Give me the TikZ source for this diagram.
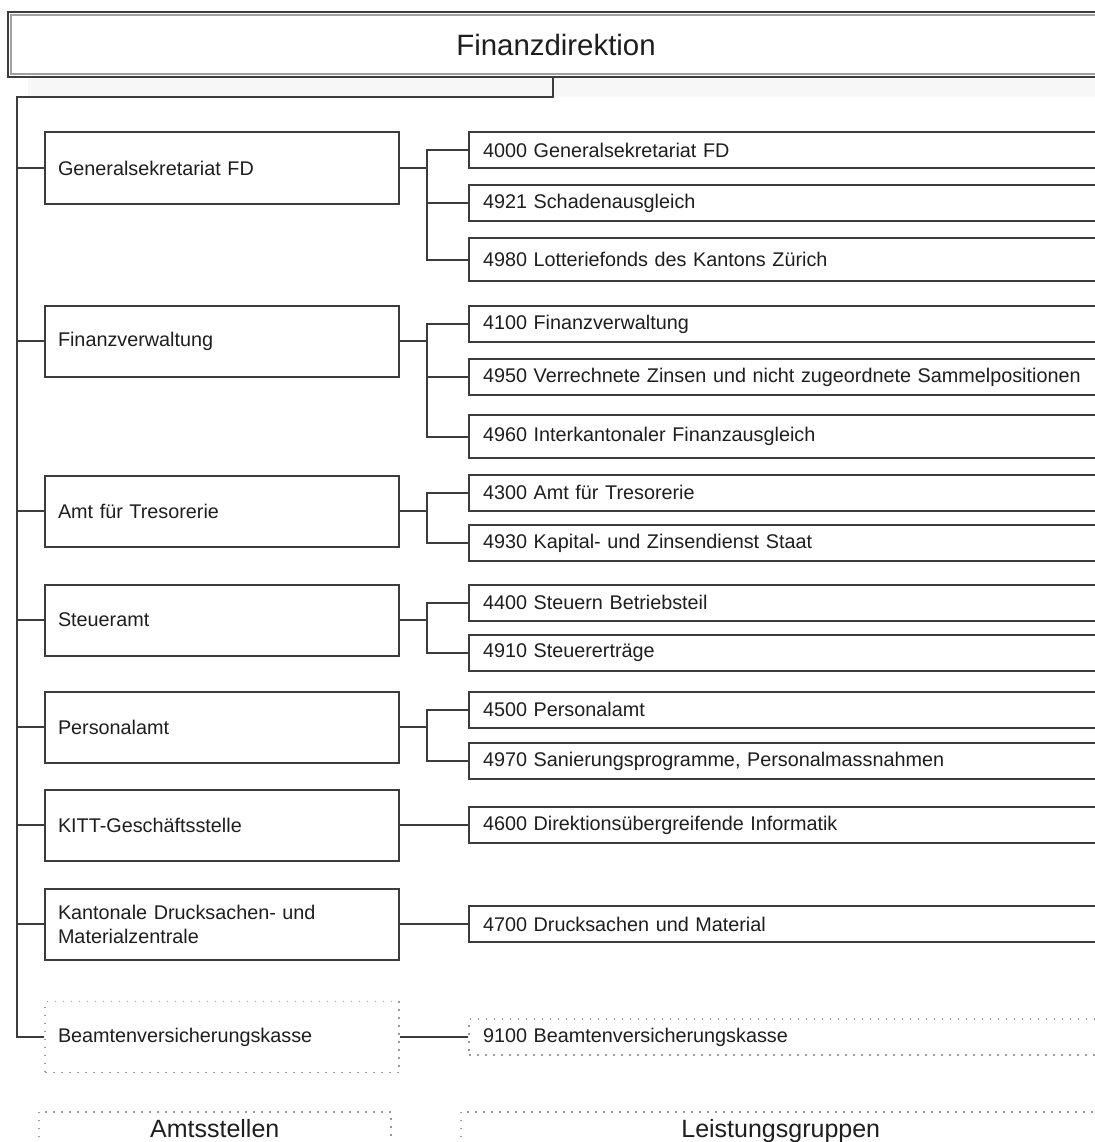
\documentclass[tikz,border=0pt]{standalone}
\usepackage{fontspec}
\setmainfont{Liberation Sans}
\usepackage{xcolor}
\definecolor{linegray}{HTML}{3C3C3C}
\definecolor{textdark}{HTML}{1E1E1E}
\definecolor{framegray}{HTML}{A0A0A0}
\definecolor{dotgray}{HTML}{9A9A9A}
\usetikzlibrary{positioning}

\begin{document}
\begin{tikzpicture}[x=1pt, y=-1pt,
    fdbox/.style  = {rectangle, draw=linegray, line width=2.2pt, fill=white,
                     minimum width=1096pt, minimum height=65pt, inner sep=0pt,
                     font=\fontsize{29.4}{34}\selectfont\color{textdark}},
    asbox/.style  = {rectangle, draw=linegray, line width=2pt, fill=white,
                     minimum width=354pt, text width=328pt, inner xsep=13pt,
                     minimum height=71pt, align=left,
                     font=\fontsize{19.8}{24}\selectfont\color{textdark}},
    lgbox/.style  = {asbox, minimum width=635pt, text width=607pt, inner xsep=14pt,
                     minimum height=36pt},
    dotline/.style = {draw=dotgray, line width=1.5pt, dash pattern=on 1.5pt off 6.5pt},
    legend/.style = {rectangle, dotline, anchor=north west, inner ysep=8pt,
                     text height=18pt, text depth=14pt, align=center,
                     font=\fontsize{25}{30}\selectfont\color{textdark}},
    conn/.style   = {linegray, line width=2pt},
  ]
    \useasboundingbox (0,0) rectangle (1094,1142);
    \fill[white] (0,0) rectangle (1094,1142);

    % ── Finanzdirektion ─────────────────────────────────────
    \fill[black!3] (28,78) rectangle (1104,97);
    \node[fdbox] (fd) at (556,44.5) {Finanzdirektion};
    \draw[framegray, line width=1.5pt]
      ([shift={(4,4)}]fd.north west) rectangle ([shift={(-4,-4)}]fd.south east);

    % ── Amtsstellen ─────────────────────────────────────────
    \node[asbox] (gs)   at (222,168)   {Generalsekretariat FD};
    \node[asbox] (fv)   at (222,341)   {Finanzverwaltung};
    \node[asbox] (tr)   at (222,511)   {Amt für Tresorerie};
    \node[asbox] (st)   at (222,620)   {Steueramt};
    \node[asbox] (pa)   at (222,727)   {Personalamt};
    \node[asbox] (kitt) at (222,825)   {KITT-Geschäftsstelle};
    \node[asbox] (kdmz) at (222,924)   {Kantonale Drucksachen- und\\Materialzentrale};
    \node[asbox, dotline] (bvk) at (222,1037) {Beamtenversicherungskasse};

    % ── Leistungsgruppen ────────────────────────────────────
    \node[lgbox] (lg4000) at (786.5,150)   {4000 Generalsekretariat FD};
    \node[lgbox] (lg4921) at (786.5,203)   {4921 Schadenausgleich};
    \node[lgbox, minimum height=43pt] (lg4980) at (786.5,259.5) {4980 Lotteriefonds des Kantons Zürich};
    \node[lgbox] (lg4100) at (786.5,324)   {4100 Finanzverwaltung};
    \node[lgbox] (lg4950) at (786.5,377)   {4950 Verrechnete Zinsen und nicht zugeordnete Sammelpositionen};
    \node[lgbox, minimum height=43pt] (lg4960) at (786.5,436.5) {4960 Interkantonaler Finanzausgleich};
    \node[lgbox] (lg4300) at (786.5,492.5) {4300 Amt für Tresorerie};
    \node[lgbox] (lg4930) at (786.5,543)   {4930 Kapital- und Zinsendienst Staat};
    \node[lgbox] (lg4400) at (786.5,602.5) {4400 Steuern Betriebsteil};
    \node[lgbox] (lg4910) at (786.5,652.5) {4910 Steuererträge};
    \node[lgbox] (lg4500) at (786.5,709.5) {4500 Personalamt};
    \node[lgbox] (lg4970) at (786.5,761)   {4970 Sanierungsprogramme, Personalmassnahmen};
    \node[lgbox] (lg4600) at (786.5,825)   {4600 Direktionsübergreifende Informatik};
    \node[lgbox] (lg4700) at (786.5,924)   {4700 Drucksachen und Material};
    \node[lgbox, dotline] (lg9100) at (786.5,1037) {9100 Beamtenversicherungskasse};

    % ── Trunk ───────────────────────────────────────────────
    \coordinate (trunk) at (17,97);
    \draw[conn] ([xshift=-3pt]fd.south) |- (trunk) |- (bvk.west);
    \foreach \n in {gs,fv,tr,st,pa,kitt,kdmz}
      \draw[conn] (trunk |- \n.west) -- (\n.west);

    % ── Amtsstellen to Leistungsgruppen ─────────────────────
    \foreach \m in {4000,4921,4980}
      \draw[conn] (gs.east) -- ++(27,0) |- (lg\m.west);
    \foreach \m in {4100,4950,4960}
      \draw[conn] (fv.east) -- ++(27,0) |- (lg\m.west);
    \foreach \m in {4300,4930}
      \draw[conn] (tr.east) -- ++(27,0) |- (lg\m.west);
    \foreach \m in {4400,4910}
      \draw[conn] (st.east) -- ++(27,0) |- (lg\m.west);
    \foreach \m in {4500,4970}
      \draw[conn] (pa.east) -- ++(27,0) |- (lg\m.west);
    \draw[conn] (kitt.east) -- (lg4600.west);
    \draw[conn] (kdmz.east) -- (lg4700.west);
    \draw[conn] (bvk.east)  -- (lg9100.west);

    % ── Legend ──────────────────────────────────────────────
    \node[legend, minimum width=352pt] (amst)  at (38,1111)  {Amtsstellen};
    \node[legend, minimum width=640pt] (leist) at (460,1111) {Leistungsgruppen};

  \end{tikzpicture}
\end{document}
